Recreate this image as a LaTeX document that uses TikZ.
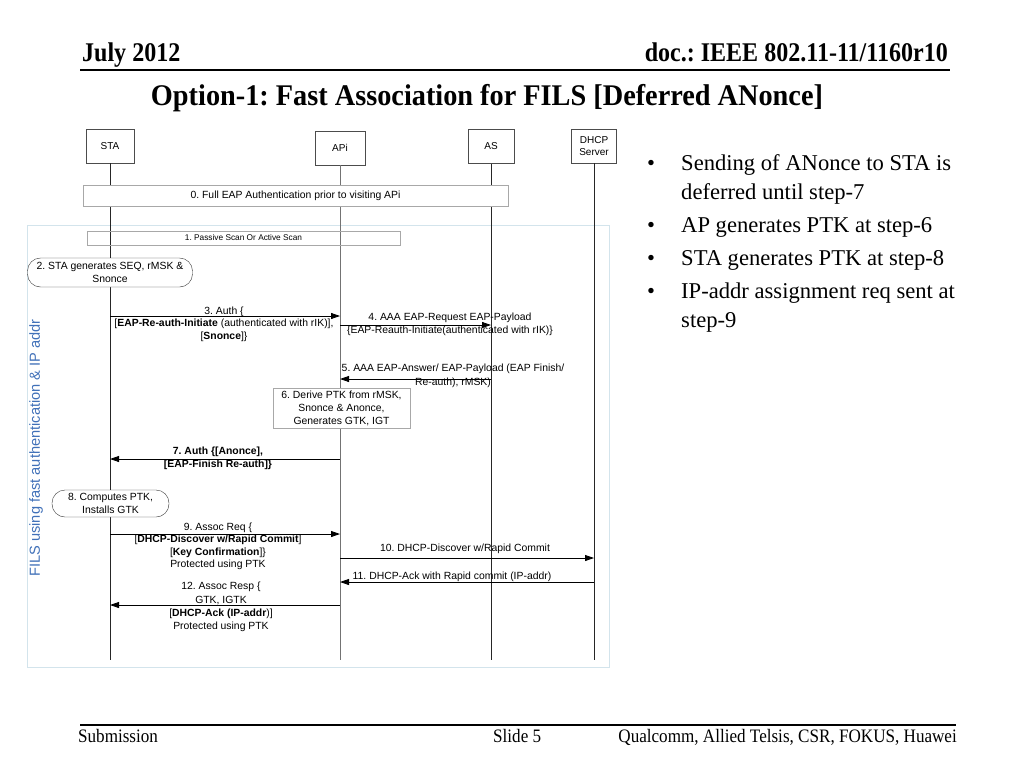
\documentclass[tikz,border=0pt]{standalone}
\usepackage{fontspec}
\setmainfont{Liberation Serif}
\setsansfont{Liberation Sans}
\usetikzlibrary{arrows.meta}
\frenchspacing
\definecolor{framebl}{HTML}{D3E4EC}
\definecolor{labelbl}{HTML}{4070B8}
\definecolor{boxgr}{HTML}{A8A8A8}
\newcommand{\sz}[2]{\fontsize{#1}{#2}\selectfont}
\tikzset{
  actor/.style={draw=black!70,fill=white,minimum width=48pt,minimum height=34pt,
    font=\sffamily\sz{10}{12},align=center,inner sep=1pt},
  life/.style={draw=black!85,line width=0.8pt},
  msg/.style={line width=0.8pt,-{Triangle[length=9pt,width=6pt]}},
  note/.style={draw=boxgr,fill=white,font=\sffamily\sz{10.4}{13},align=center,inner sep=1pt},
  stadium/.style={draw=black!80,fill=white,rounded corners=13pt,
    font=\sffamily\sz{10.4}{13},align=center,inner sep=1pt},
  lbl/.style={font=\sffamily\sz{10.4}{12.4},align=center,inner sep=0pt},
  bul/.style={anchor=base west,font=\sz{22.6}{26},inner sep=0pt},
  foot/.style={font=\sz{19}{22},xscale=0.9,inner sep=0pt},
}
\begin{document}
\begin{tikzpicture}[x=1pt,y=-1pt]
   \useasboundingbox (0,0) rectangle (1024,768);
   % header and footer
   \node[anchor=base west,font=\bfseries\sz{27}{30},xscale=0.89,inner sep=0pt] (date) at (82,62) {July 2012};
   \node[anchor=base east,font=\bfseries\sz{27}{30},xscale=0.89,inner sep=0pt] (docno) at (948,62) {doc.: IEEE 802.11-11/1160r10};
   \draw[line width=2pt] (80,70) -- (950,70);
   \node[anchor=base,font=\bfseries\sz{30}{34},xscale=0.943,inner sep=0pt] (title) at (487,105) {Option-1: Fast Association for FILS [Deferred ANonce]};
   \draw[line width=1.5pt] (80,725) -- (956,725);
   \node[foot,anchor=base west] (subm) at (78,742) {Submission};
   \node[foot,anchor=base west] (slide) at (493,742) {Slide 5};
   \node[foot,anchor=base east] (auth) at (957,742) {Qualcomm, Allied Telsis, CSR, FOKUS, Huawei};
   % bullets
   \node[bul] (b1) at (647,170) {\textbullet};
   \node[bul] (t1) at (681,170) {Sending of ANonce to STA is};
   \node[bul] (t1b) at (681,199) {deferred until step-7};
   \node[bul] (b2) at (647,232) {\textbullet};
   \node[bul] (t2) at (681,232) {AP generates PTK at step-6};
   \node[bul] (b3) at (647,265) {\textbullet};
   \node[bul] (t3) at (681,265) {STA generates PTK at step-8};
   \node[bul] (b4) at (647,298) {\textbullet};
   \node[bul] (t4) at (681,298) {IP-addr assignment req sent at};
   \node[bul] (t4b) at (681,327) {step-9};
   % frame and side label
   \draw[framebl] (27,225) rectangle (609,667);
   \node[rotate=90,text=labelbl,font=\sffamily\sz{14.6}{17},inner sep=0pt] (fils) at (36,448) {FILS using fast authentication \& IP addr};
   % lifelines
   \node[actor] (sta) at (110,146) {STA};
   \node[actor,minimum width=50pt] (api) at (340,148) {APi};
   \node[actor,minimum width=46pt] (as) at (491,146.5) {AS};
   \node[actor,minimum width=45pt] (dhcp) at (594,146) {DHCP\\Server};
   \coordinate (bottom) at (0,660);
   \draw[life] (sta) -- (sta |- bottom);
   \draw[life,draw=black!55] (api) -- (api |- bottom);
   \draw[life] (as) -- (as |- bottom);
   \draw[life] (dhcp) -- (dhcp |- bottom);
   % boxes on the lifelines
   \node[note,minimum width=425pt,minimum height=21pt] (full) at (295.5,195.5) {0. Full EAP Authentication prior to visiting APi};
   \node[draw=boxgr,minimum width=313pt,minimum height=14pt,font=\sffamily\sz{8.3}{9},inner sep=0pt] (scan) at (243.5,238) {1. Passive Scan Or Active Scan};
   \node[stadium,minimum width=165pt,minimum height=29pt] (seq) at (110,272.5) {2. STA generates SEQ, rMSK \&\\Snonce};
   \node[note,minimum width=137pt,minimum height=40pt] (derive) at (341.5,408) {6. Derive PTK from rMSK,\\Snonce \& Anonce,\\Generates GTK, IGT};
   \node[stadium,minimum width=117pt,minimum height=27pt] (ptk) at (110.5,503.5) {8. Computes PTK,\\Installs GTK};
   % messages
   \coordinate (m3) at (0,316);
   \coordinate (m4) at (0,325);
   \coordinate (m5) at (0,379);
   \coordinate (m7) at (0,459);
   \coordinate (m9) at (0,534);
   \coordinate (m10) at (0,558);
   \coordinate (m11) at (0,582);
   \coordinate (m12) at (0,605);
   \draw[msg] (sta |- m3) -- (api |- m3);
   \draw[msg] (api |- m4) -- (as |- m4);
   \draw[msg] (as |- m5) -- (api |- m5);
   \draw[msg] (api |- m7) -- (sta |- m7);
   \draw[msg] (sta |- m9) -- (api |- m9);
   \draw[msg] (api |- m10) -- (dhcp |- m10);
   \draw[msg] (dhcp |- m11) -- (api |- m11);
   \draw[msg] (api |- m12) -- (sta |- m12);
   % message labels
   \node[lbl] (l3) at (224,324) {3. Auth \{\\{}[\textbf{EAP-Re-auth-Initiate} (authenticated with rIK)],\\{}[\textbf{Snonce}]\}};
   \node[lbl] (l4) at (450,324.5) {4. AAA EAP-Request EAP-Payload\\\{EAP-Reauth-Initiate(authenticated with rIK)\}};
   \node[lbl,font=\sffamily\sz{10.4}{14}] (l5) at (453,375.5) {5. AAA EAP-Answer/ EAP-Payload (EAP Finish/\\Re-auth), rMSK)};
   \node[lbl,font=\sffamily\bfseries\sz{10.4}{13}] (l7) at (218,458.5) {7. Auth \{[Anonce],\\{}[EAP-Finish Re-auth]\}};
   \node[lbl] (l9) at (218,546.5) {9. Assoc Req \{\\{}[\textbf{DHCP-Discover w/Rapid Commit}]\\{}[\textbf{Key Confirmation}]\}\\Protected using PTK};
   \node[lbl] (l10) at (465,549) {10. DHCP-Discover w/Rapid Commit};
   \node[lbl] (l11) at (452,577) {11. DHCP-Ack with Rapid commit (IP-addr)};
   \node[lbl,font=\sffamily\sz{10.4}{13.3}] (l12) at (221,607) {12. Assoc Resp \{\\GTK, IGTK\\{}[\textbf{DHCP-Ack (IP-addr})]\\Protected using PTK};
\end{tikzpicture}
\end{document}
